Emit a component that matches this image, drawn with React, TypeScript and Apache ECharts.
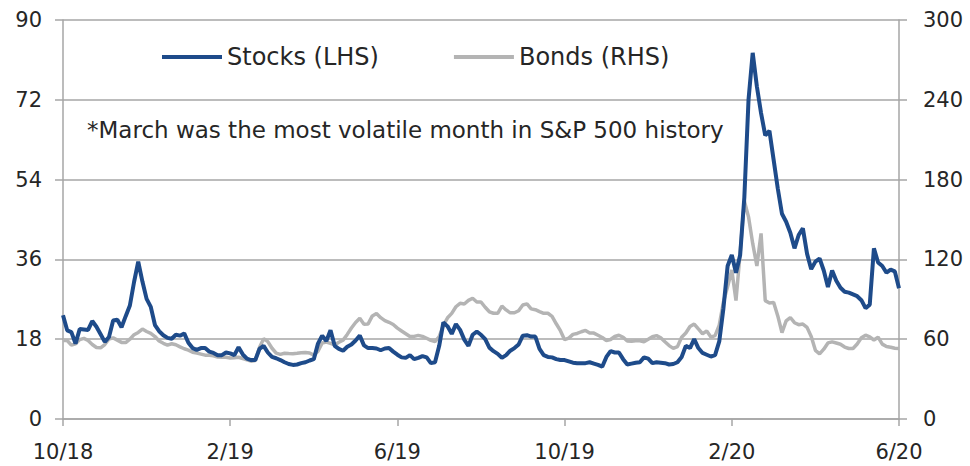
import React, { useEffect, useRef } from "react";
import * as echarts from "echarts";

// Sampling: one value every 0.1 month, starting October 2018
const START_YEAR = 2018;
const START_MONTH = 10;
const STEP = 0.1;

const seriesNames = ["Stocks (LHS)", "Bonds (RHS)"];
const note = "*March was the most volatile month in S&P 500 history";

const leftTicks = { min: 0, max: 90, interval: 18 };
const rightTicks = { min: 0, max: 300, interval: 60 };
const monthTicks = { min: 0, max: 20, interval: 4 };

// Stocks volatility (VIX), LHS
const stocks = [
  23.4, 20, 19.6, 17, 20.3, 20.2, 20.1, 22.1, 20.8, 19.1,
  17.4, 18.5, 22.2, 22.4, 20.7, 23.2, 25.6, 30.9, 35.5, 31,
  27.1, 25.3, 21.2, 19.8, 18.9, 18.3, 18.1, 19, 18.8, 19.3,
  17.2, 16, 15.6, 16, 16, 15.2, 14.9, 14.4, 14.4, 15,
  14.8, 14.4, 16.2, 14.6, 13.6, 13.3, 13.3, 15.8, 16.5, 15,
  14, 13.7, 13.3, 12.8, 12.4, 12.2, 12.3, 12.6, 12.8, 13.2,
  13.5, 17, 18.8, 17.6, 20, 16.5, 15.8, 15.4, 16.3, 16.8,
  17.7, 18.8, 16.6, 16, 16, 15.9, 15.5, 15.9, 16, 15.2,
  14.5, 13.9, 13.8, 14.4, 13.5, 13.8, 14.2, 13.9, 12.6, 12.8,
  16.5, 21.8, 20.9, 19.2, 21.4, 20.1, 17.9, 16.5, 19, 19.7,
  19, 18, 16.1, 15.3, 14.7, 13.8, 14.4, 15.4, 16, 16.8,
  18.8, 18.9, 18.6, 18.6, 15.8, 14.4, 14, 13.9, 13.5, 13.3,
  13.3, 13, 12.7, 12.6, 12.6, 12.6, 12.8, 12.5, 12.2, 11.8,
  14, 15.3, 15, 15, 13.5, 12.3, 12.5, 12.7, 12.8, 13.9,
  13.6, 12.6, 12.8, 12.7, 12.6, 12.3, 12.4, 12.8, 14, 16.5,
  16, 18, 16, 14.9, 14.5, 14.1, 14.4, 17.5, 25, 34.5,
  37, 33, 37, 50, 72, 82.6, 75, 69, 64, 65,
  58.5, 52, 46.3, 44.5, 42, 38.5, 41.5, 43, 37.3, 33.8,
  35.5, 36.2, 33.5, 29.8, 33.5, 31.2, 29.6, 28.7, 28.5, 28.1,
  27.7, 26.8, 25, 25.8, 38.5, 35.3, 34.5, 33, 33.7, 33.3,
  29.5,
];

// Bonds volatility (MOVE), RHS
const bonds = [
  59, 59, 55.5, 56.5, 59.7, 60.6, 59, 56, 53.8, 53.5,
  56, 60.2, 61, 59.3, 57.6, 57.5, 60, 63.4, 65.1, 67.6,
  65.8, 64.4, 62, 58.6, 56.9, 55.6, 56.6, 55.8, 54.2, 52.8,
  51.8, 50.2, 49.6, 48.8, 48, 48, 47.5, 46.6, 46.5, 46.4,
  45.9, 46.1, 46.4, 45.5, 44.5, 43.5, 43.9, 53.8, 60.4, 58.2,
  53.2, 49.5, 48.6, 49.4, 49.2, 49.1, 49.4, 49.8, 50, 49.6,
  48, 51, 57.2, 57.8, 56.8, 55.7, 57.7, 59.3, 63.6, 68.4,
  72.6, 75.7, 71.2, 71.5, 77.5, 79.3, 76.2, 74, 72.7, 71.1,
  68.3, 66.2, 64.1, 62, 62.1, 62.9, 62.1, 60.7, 59.1, 58.2,
  61.9, 70.5, 76.1, 79.4, 84.4, 87, 86.5, 89.2, 90.8, 88,
  88, 84, 80.6, 79.5, 79.5, 84.9, 82, 79.8, 79.9, 81.4,
  85.7, 86.6, 82.8, 82.2, 80.8, 79.5, 79.5, 77.2, 71.6, 66.4,
  59.6, 60.8, 63.6, 64.3, 65.6, 66.6, 64.7, 64.6, 63, 61.3,
  59, 59.8, 62, 63, 61.5, 58.6, 58.4, 58.8, 58.8, 58.1,
  59.9, 61.8, 62.7, 61.1, 58.1, 55.2, 53.1, 54.4, 61.5, 64.7,
  69.6, 71.4, 67.7, 64.1, 66.1, 61.6, 62.7, 70.6, 88, 99.6,
  112, 89, 125, 164, 152, 132, 115, 139.5, 89, 87.2,
  87.7, 77.5, 65, 73.8, 76.3, 72.4, 70.9, 71.4, 68.9, 62.1,
  51.6, 49, 52.5, 57.2, 58, 57.1, 56.2, 54.1, 53, 53,
  56.4, 61.1, 63, 61.7, 59.4, 61.5, 56.3, 54.5, 54, 53.2,
  53,
];

const FONT = "DejaVu Sans";
const TEXT = "#262626";
const AXIS = "#a6a6a6";
const BLUE = "#1e4b8a";
const GRAY = "#b4b4b4";

function monthLabel(m: number): string {
  const total = START_MONTH - 1 + Math.round(m);
  const year = START_YEAR + Math.floor(total / 12);
  const month = (total % 12) + 1;
  return `${month}/${String(year).slice(2)}`;
}

export default function App() {
  const ref = useRef<HTMLDivElement>(null);

  useEffect(() => {
    document.body.style.margin = "0";
    const chart = echarts.init(ref.current!, undefined, { renderer: "svg" });
    const labelStyle = { fontSize: 21, color: TEXT, fontFamily: FONT };
    chart.setOption({
      animation: false,
      backgroundColor: "#ffffff",
      grid: { left: 63, right: 71, top: 20, bottom: 47, containLabel: false },
      legend: {
        data: seriesNames,
        left: 157,
        top: 40,
        icon: "rect",
        itemWidth: 60,
        itemHeight: 4,
        itemGap: 75,
        textStyle: { fontSize: 24, color: TEXT, fontFamily: FONT },
      },
      graphic: [
        {
          type: "text",
          left: 87,
          top: 118,
          style: { text: note, fontSize: 23, fill: TEXT, fontFamily: FONT },
        },
      ],
      xAxis: {
        type: "value",
        ...monthTicks,
        axisLine: { show: true, lineStyle: { color: AXIS, width: 1.5 } },
        axisTick: { show: true, length: 7, lineStyle: { color: AXIS, width: 1.5 } },
        splitLine: { show: false },
        axisLabel: { ...labelStyle, margin: 22, formatter: (v: number) => monthLabel(v) },
      },
      yAxis: [
        {
          type: "value",
          position: "left",
          ...leftTicks,
          axisLine: { show: true, lineStyle: { color: AXIS, width: 1.5 } },
          axisTick: { show: true, length: 8, lineStyle: { color: AXIS, width: 1.5 } },
          splitLine: { show: true, lineStyle: { color: AXIS, width: 1.5 } },
          axisLabel: { ...labelStyle, margin: 21 },
        },
        {
          type: "value",
          position: "right",
          ...rightTicks,
          axisLine: { show: true, lineStyle: { color: AXIS, width: 1.5 } },
          axisTick: { show: true, length: 8, lineStyle: { color: AXIS, width: 1.5 } },
          splitLine: { show: false },
          axisLabel: { ...labelStyle, margin: 24 },
        },
      ],
      series: [
        {
          name: seriesNames[1],
          type: "line",
          yAxisIndex: 1,
          symbol: "none",
          data: bonds.map((v, i) => [i * STEP, v]),
          lineStyle: { color: GRAY, width: 3.5 },
          itemStyle: { color: GRAY },
          z: 2,
        },
        {
          name: seriesNames[0],
          type: "line",
          yAxisIndex: 0,
          symbol: "none",
          data: stocks.map((v, i) => [i * STEP, v]),
          lineStyle: { color: BLUE, width: 4 },
          itemStyle: { color: BLUE },
          z: 3,
        },
      ],
    });
    return () => chart.dispose();
  }, []);

  return <div ref={ref} style={{ width: 970, height: 466 }} />;
}
